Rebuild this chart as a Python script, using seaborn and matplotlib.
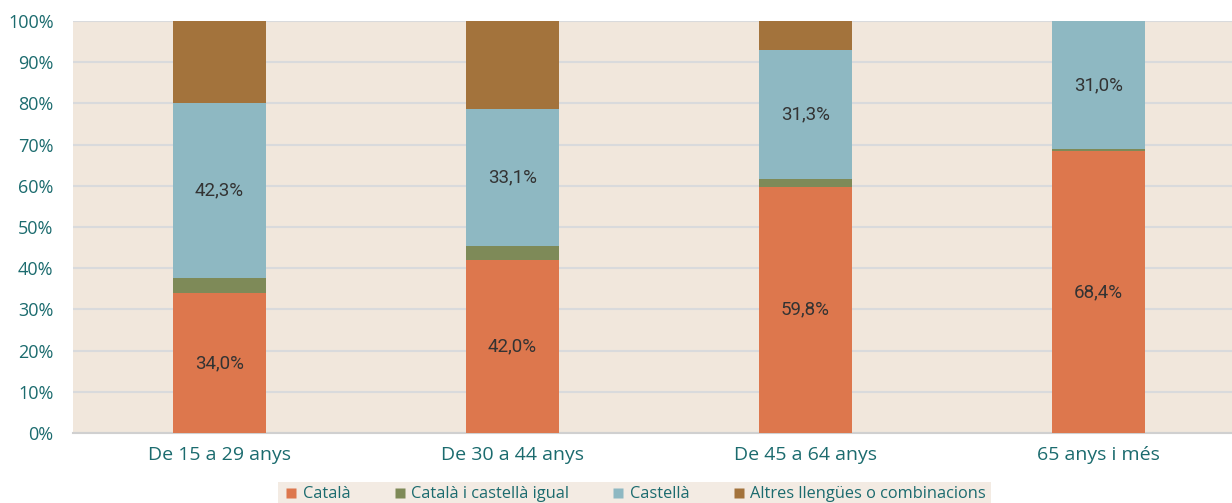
import matplotlib
matplotlib.use("Agg")
import matplotlib.pyplot as plt
import seaborn as sns
import pandas as pd
import numpy as np
from matplotlib.lines import Line2D

categories = ["De 15 a 29 anys", "De 30 a 44 anys", "De 45 a 64 anys", "65 anys i més"]
series_names = ["Català", "Català i castellà igual", "Castellà", "Altres llengües o combinacions"]
catala = [34.0, 42.0, 59.8, 68.4]
igual = [3.7, 3.5, 1.9, 0.6]
castella = [42.3, 33.1, 31.3, 31.0]
altres = [20.0, 21.4, 7.0, 0.0]
label_series = {"Català": catala, "Castellà": castella}
colors = ["#DD774D", "#7E8A58", "#8EB8C2", "#A3733C"]

sns.set_theme(style="white")
plt.rcParams['font.family'] = ['Open Sans', 'DejaVu Sans']

teal = "#1B6B6E"
bg = "#F1E7DC"

fig = plt.figure(figsize=(12.32, 5.03), dpi=100)
ax = fig.add_axes([73/1232, 70/503, 1 - 73/1232, (433-21)/503])
ax.set_facecolor(bg)

values = [catala, igual, castella, altres]
cum = np.cumsum(np.array(values), axis=0)
width = 0.317
for i in range(3, -1, -1):
    df = pd.DataFrame({"cat": categories, "val": cum[i]})
    sns.barplot(data=df, x="cat", y="val", color=colors[i], width=width,
                ax=ax, saturation=1, linewidth=0, zorder=3)

# labels
bottoms = np.vstack([np.zeros(4), cum[:-1]])
for si, name in enumerate(series_names):
    if name in label_series:
        vals = label_series[name]
        for j, v in enumerate(vals):
            y = bottoms[si][j] + v / 2
            ax.text(j, y, f"{v:.1f}%".replace(".", ","), ha="center", va="center",
                    fontsize=13.5, color="#333333", family=["Roboto", "DejaVu Sans"], zorder=5)

ax.set_xlim(-0.5, -0.5 + (1232 - 73) / 293)
ax.set_ylim(0, 100)
ax.set_yticks(range(0, 101, 10))
ax.set_yticklabels([f"{t}%" for t in range(0, 101, 10)], fontsize=13, color=teal)
ax.set_xticks(range(4))
ax.set_xticklabels(categories, fontsize=14, color=teal)
ax.tick_params(axis="both", length=0)
ax.tick_params(axis="y", pad=14)
ax.tick_params(axis="x", pad=9)
ax.set_xlabel("")
ax.set_ylabel("")
ax.yaxis.grid(True, color="#D9DADC", linewidth=1.5, zorder=1)
ax.set_axisbelow(True)
for s in ["top", "right", "left"]:
    ax.spines[s].set_visible(False)
ax.spines["bottom"].set_color("#D0D0D0")
ax.spines["bottom"].set_linewidth(1.5)

handles = [Line2D([0], [0], marker="s", linestyle="none", markersize=6.5,
                  markerfacecolor=c, markeredgecolor="none") for c in colors]
leg = fig.legend(handles, series_names, loc="lower center", bbox_to_anchor=(0.515, -0.025),
                 ncol=4, frameon=True, fontsize=11.8, handletextpad=0.2, columnspacing=2.5,
                 borderpad=0.3, handlelength=1.0)
leg.get_frame().set_facecolor(bg)
leg.get_frame().set_edgecolor("none")
leg.get_frame().set_boxstyle("square", pad=0.0)
for t in leg.get_texts():
    t.set_color(teal)

fig.savefig("out.png", dpi=100)
